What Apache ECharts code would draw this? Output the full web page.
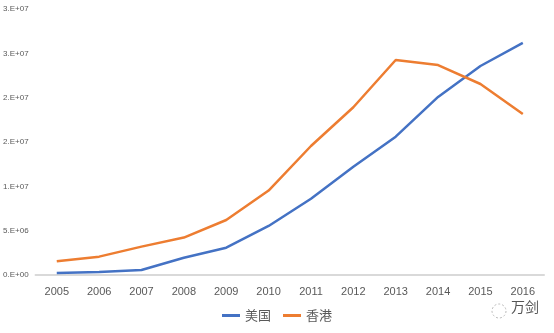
<!DOCTYPE html>
<html><head><meta charset="utf-8">
<script src="https://cdn.jsdelivr.net/npm/echarts@6/dist/echarts.min.js"></script>
<style>html,body{margin:0;padding:0;background:#fff}#c{width:554px;height:333px}</style>
</head><body><div id="c"></div>
<script>
const years = ['2005','2006','2007','2008','2009','2010','2011','2012','2013','2014','2015','2016'];
const usValues = [0.23e6, 0.35e6, 0.57e6, 1.95e6, 3.08e6, 5.53e6, 8.6e6, 12.2e6, 15.6e6, 20.08e6, 23.57e6, 26.17e6];
const hkValues = [1.55e6, 2.07e6, 3.2e6, 4.22e6, 6.2e6, 9.52e6, 14.55e6, 18.92e6, 24.25e6, 23.68e6, 21.54e6, 18.16e6];
const seriesNames = ['美国', '香港'];

function excelFmt(v){
  if (v === 0) return '0.E+00';
  let e = Math.floor(Math.log10(v) + 1e-9);
  let m = Math.round(v / Math.pow(10, e));
  if (m >= 10) { m = 1; e += 1; }
  return m + '.E+' + (e < 10 ? '0' + e : e);
}

const chart = echarts.init(document.getElementById('c'), null, {renderer: 'canvas'});
chart.setOption({
  animation: false,
  backgroundColor: '#fff',
  grid: {left: 35, right: 10, top: 9, bottom: 58},
  legend: {
    bottom: 6, left: 'center',
    itemWidth: 18, itemHeight: 3, itemGap: 12,
    icon: 'rect',
    textStyle: {fontFamily: 'Noto Sans CJK SC', fontSize: 13, color: '#595959'},
    data: seriesNames
  },
  xAxis: {
    type: 'category', data: years, boundaryGap: true,
    axisLine: {lineStyle: {color: '#d9d9d9', width: 2}},
    axisTick: {show: false},
    axisLabel: {color: '#595959', fontSize: 11, fontFamily: 'Liberation Sans', margin: 11}
  },
  yAxis: {
    type: 'value', min: 0, max: 3e7, interval: 5e6,
    axisLine: {show: false}, axisTick: {show: false},
    splitLine: {show: false},
    axisLabel: {color: '#595959', fontSize: 8, fontFamily: 'Liberation Sans', margin: 7, formatter: excelFmt}
  },
  series: [
    {name: seriesNames[0], type: 'line', data: usValues, symbol: 'none',
     lineStyle: {color: '#4472C4', width: 2.5}, itemStyle: {color: '#4472C4'}},
    {name: seriesNames[1], type: 'line', data: hkValues, symbol: 'none',
     lineStyle: {color: '#ED7D31', width: 2.5}, itemStyle: {color: '#ED7D31'}}
  ],
  graphic: [
    {type: 'circle', shape: {cx: 499, cy: 311, r: 7}, style: {fill: 'none', stroke: '#bbb', lineWidth: 1, lineDash: [2, 2]}},
    {type: 'text', left: 511, top: 300, style: {text: '万剑', fill: '#555', font: '14px "Noto Sans CJK SC"'}}
  ]
});
</script></body></html>
